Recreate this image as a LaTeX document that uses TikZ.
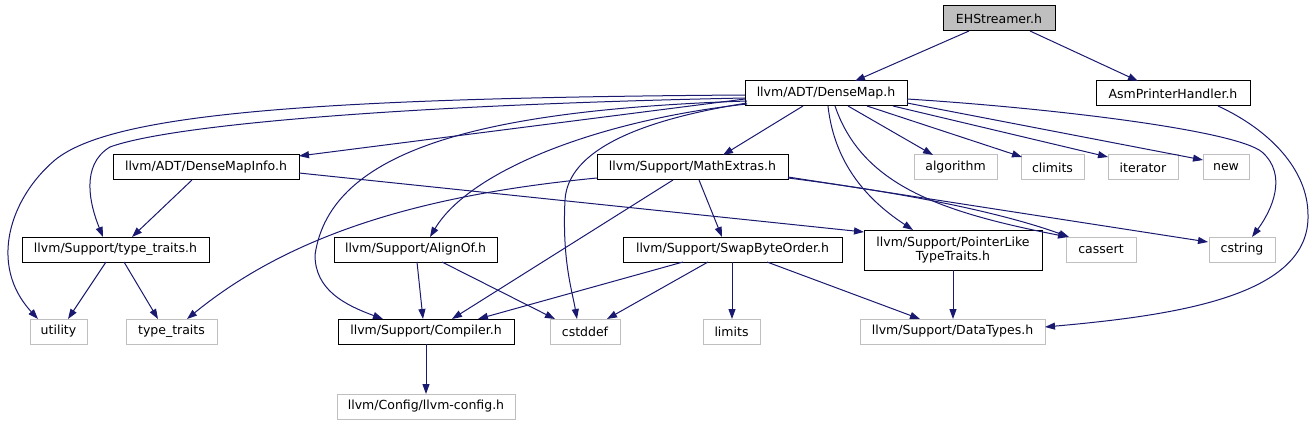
\documentclass[tikz,border=0pt]{standalone}
\usepackage{fontspec}
\setmainfont{DejaVu Sans}
\usetikzlibrary{arrows.meta,calc}
\definecolor{edgeblue}{HTML}{191970}
\definecolor{extgrey}{HTML}{BFBFBF}
\begin{document}
\begin{tikzpicture}[x=1pt,y=-1pt,
  box/.style={draw=black, line width=1pt, rectangle, inner sep=0pt, outer sep=0pt,
    minimum height=25pt, anchor=north west, font=\fontsize{12.5}{14.5}\selectfont},
  ext/.style={box, draw=extgrey},
  edge/.style={draw=edgeblue, line width=1pt, -{Triangle[length=10pt,width=7pt]}}]
\useasboundingbox (0,0) rectangle (1315,425);
% row 0
\node[box, fill=extgrey, minimum width=112pt] (eh) at (943,6) {EHStreamer.h};
% row 1
\node[box, minimum width=162pt] (dm) at (745,81) {llvm/ADT/DenseMap.h};
\node[box, minimum width=154pt] (aph) at (1096,81) {AsmPrinterHandler.h};
% row 2
\node[box, minimum width=186pt] (dmi) at (113,155) {llvm/ADT/DenseMapInfo.h};
\node[box, minimum width=191pt] (me) at (597,155) {llvm/Support/MathExtras.h};
\node[ext, minimum width=83pt] (alg) at (914,155) {algorithm};
\node[ext, minimum width=63pt] (clim) at (1021,155) {climits};
\node[ext, minimum width=70pt] (iter) at (1108,155) {iterator};
\node[ext, minimum width=46pt] (new) at (1203,155) {new};
% row 3
\node[box, minimum width=187pt] (stt) at (22,237) {llvm/Support/type\_traits.h};
\node[box, minimum width=163pt] (align) at (334,237) {llvm/Support/AlignOf.h};
\node[box, minimum width=219pt] (swap) at (623,237) {llvm/Support/SwapByteOrder.h};
\node[box, minimum width=178pt, minimum height=40pt, align=center] (pl) at (864,230) {llvm/Support/PointerLike\\TypeTraits.h};
\node[ext, minimum width=70pt] (cassert) at (1066,237) {cassert};
\node[ext, minimum width=66pt] (cstring) at (1209,237) {cstring};
% row 4
\node[ext, minimum width=57pt] (util) at (30,319) {utility};
\node[ext, minimum width=91pt] (tt) at (126,319) {type\_traits};
\node[box, minimum width=176pt] (comp) at (338,319) {llvm/Support/Compiler.h};
\node[ext, minimum width=70pt] (cstddef) at (550,319) {cstddef};
\node[ext, minimum width=57pt] (limits) at (703,319) {limits};
\node[ext, minimum width=185pt] (dt) at (860,319) {llvm/Support/DataTypes.h};
% row 5
\node[ext, minimum width=178pt] (cfg) at (337,394) {llvm/Config/llvm-config.h};

% edges
\draw[edge] ($(eh.south west)+(26,0)$) -- ($(dm.north west)+(110,0)$);
\draw[edge] ($(eh.south west)+(87,0)$) -- ($(aph.north west)+(42,0)$);
\draw[edge] ($(aph.south west)+(122,0)$) .. controls (1270,130) and (1308,170) .. (1308,215)
   .. controls (1310,295) and (1180,315) .. ($(dt.north east)+(0,8)$);
\draw[edge] ($(dm.north west)+(0,18)$) -- ($(dmi.north east)+(0,1)$);
\draw[edge] ($(dm.south west)+(58,0)$) -- ($(me.north west)+(126,0)$);
\draw[edge] ($(dm.south west)+(103,0)$) -- ($(alg.north west)+(19,0)$);
\draw[edge] ($(dm.south west)+(122,0)$) -- ($(clim.north west)+(1,2)$);
\draw[edge] ($(dm.south west)+(148,0)$) -- ($(iter.north west)+(0,2)$);
\draw[edge] ($(dm.north east)+(0,22)$) -- ($(new.north west)+(0,5)$);
\draw[edge] ($(dm.north east)+(0,18)$) .. controls (1050,108) and (1235,130) .. (1262,152)
   .. controls (1288,175) and (1272,210) .. ($(cstring.north west)+(43,0)$);
\draw[edge] ($(dm.south west)+(90,0)$) .. controls (862,185) and (940,212) .. ($(cassert.north west)+(2,0)$);
\draw[edge] ($(dm.south west)+(83,0)$) .. controls (835,170) and (875,205) .. ($(pl.north west)+(49,0)$);
\draw[edge] ($(dm.south west)+(2,-3)$) .. controls (640,120) and (568,150) .. (565,200)
   .. controls (562,260) and (572,290) .. ($(cstddef.north west)+(27,0)$);
\draw[edge] ($(dm.north west)+(0,17)$) .. controls (400,105) and (170,125) .. (110,147)
   .. controls (80,165) and (90,205) .. ($(stt.north west)+(81,0)$);
\draw[edge] ($(dm.north west)+(0,14)$) .. controls (300,98) and (110,115) .. (55,160)
   .. controls (10,198) and (-12,265) .. ($(util.north west)+(8,0)$);
\draw[edge] ($(dm.south west)+(2,-2)$) .. controls (600,120) and (470,170) .. ($(align.north west)+(96,0)$);
\draw[edge] ($(dm.south west)+(2,-5)$) .. controls (480,110) and (330,150) .. (315,255)
   .. controls (315,290) and (345,305) .. ($(comp.north west)+(45,0)$);
\draw[edge] ($(dmi.south west)+(79,0)$) -- ($(stt.north west)+(110,0)$);
\draw[edge] ($(dmi.north east)+(0,18)$) -- ($(pl.north west)+(0,2)$);
\draw[edge] ($(me.north west)+(0,23)$) .. controls (420,195) and (290,235) .. ($(tt.north west)+(61,0)$);
\draw[edge] ($(me.south west)+(76,0)$) -- ($(comp.north west)+(114,0)$);
\draw[edge] ($(me.south west)+(102,0)$) -- ($(swap.north west)+(99,0)$);
\draw[edge] ($(me.north east)+(0,23)$) .. controls (900,192) and (1000,212) .. ($(cassert.north west)+(3,0)$);
\draw[edge] ($(me.north east)+(0,22)$) -- ($(cstring.north west)+(-1,5)$);
\draw[edge] ($(stt.south west)+(84,0)$) -- ($(util.north west)+(38,0)$);
\draw[edge] ($(stt.south west)+(102,0)$) -- ($(tt.north west)+(32,0)$);
\draw[edge] ($(align.south west)+(83,0)$) -- ($(comp.north west)+(85,0)$);
\draw[edge] ($(align.south west)+(108,0)$) -- ($(cstddef.north west)+(5,0)$);
\draw[edge] ($(swap.south west)+(60,0)$) -- ($(comp.north west)+(140,0)$);
\draw[edge] ($(swap.south west)+(85,0)$) -- ($(cstddef.north west)+(57,0)$);
\draw[edge] ($(swap.south west)+(109,0)$) -- ($(limits.north west)+(29,0)$);
\draw[edge] ($(swap.south west)+(144,0)$) -- ($(dt.north west)+(60,0)$);
\draw[edge] (pl.south) -- ($(dt.north west)+(93,0)$);
\draw[edge] (comp.south) -- (cfg.north);
\end{tikzpicture}
\end{document}
